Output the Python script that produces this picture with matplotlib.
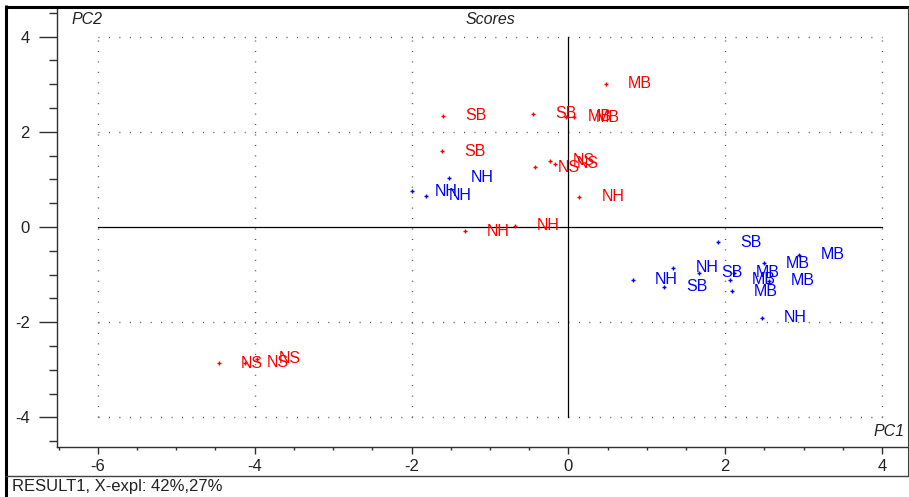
import matplotlib
matplotlib.use("Agg")
import matplotlib.pyplot as plt
from matplotlib.lines import Line2D
import numpy as np

plt.rcParams['font.family'] = ['Liberation Sans', 'DejaVu Sans']

# PCA scores (PC1, PC2) and sample labels
red_pc1 = [0.48, -1.60, -0.45, -0.03, 0.07, -1.61, -0.42, -0.23, -0.17,
           0.14, -1.32, -0.68, -4.46, -4.12, -3.97]
red_pc2 = [3.01, 2.34, 2.38, 2.32, 2.30, 1.59, 1.25, 1.39, 1.33,
           0.64, -0.09, 0.03, -2.86, -2.85, -2.77]
red_labels = ["MB", "SB", "SB", "MB", "MB", "SB", "NS", "NS", "NS",
              "NH", "NH", "NH", "NS", "NS", "NS"]

blue_pc1 = [-1.52, -1.99, -1.81, 1.91, 0.82, 1.34, 1.22, 1.67, 2.11,
            2.06, 2.08, 2.49, 2.94, 2.56, 2.47]
blue_pc2 = [1.03, 0.75, 0.66, -0.32, -1.11, -0.86, -1.25, -0.96, -0.96,
            -1.11, -1.35, -0.76, -0.58, -1.13, -1.91]
blue_labels = ["NH", "NH", "NH", "SB", "NH", "NH", "SB", "SB", "MB",
               "MB", "MB", "MB", "MB", "MB", "NH"]

x_ticks = [-6, -4, -2, 0, 2, 4]
y_ticks = [-4, -2, 0, 2, 4]
status_text = "RESULT1, X-expl: 42%,27%"

W, H = 909, 497
fig = plt.figure(figsize=(W / 100, H / 100), dpi=100)
fig.patch.set_facecolor("white")

ax = fig.add_axes([57 / W, 50 / H, 851 / W, 440 / H])
ax.set_xlim(-6.52, 4.33)
ax.set_ylim(-4.62, 4.62)

axis_col = "#303030"
for side in ("top", "right"):
    ax.spines[side].set_visible(False)
for side in ("left", "bottom"):
    ax.spines[side].set_color(axis_col)
    ax.spines[side].set_linewidth(1.0)

ax.set_xticks(x_ticks)
ax.set_yticks(y_ticks)
ax.set_xticks(np.arange(-6.5, 4.5, 0.5), minor=True)
ax.set_yticks(np.arange(-4.5, 4.6, 0.5), minor=True)
ax.set_xticklabels([str(t) for t in x_ticks])
ax.set_yticklabels([str(t) for t in y_ticks])
ax.tick_params(axis="x", which="major", direction="out", length=5, width=1,
               color=axis_col, pad=3.5, labelsize=12, labelcolor="#222222")
ax.tick_params(axis="x", which="minor", direction="out", length=2.2, width=1,
               color=axis_col)
ax.tick_params(axis="y", which="major", direction="out", length=13, width=1,
               color=axis_col, pad=6.5, labelsize=12, labelcolor="#222222")
ax.tick_params(axis="y", which="minor", direction="out", length=5.8, width=1,
               color=axis_col)

# dotted grid inside the [-6, 4] x [-4, 4] box
dot_style = dict(color="#505050", lw=1.0, dashes=(0.72, 6.8), zorder=1)
for gx in [-6, -4, -2, 2, 4]:
    ax.plot([gx, gx], [-4, 4], **dot_style)
for gy in [-4, -2, 2, 4]:
    ax.plot([-6, 4], [gy, gy], **dot_style)
# solid zero lines
ax.plot([0, 0], [-4, 4], color="black", lw=0.9, zorder=2)
ax.plot([-6, 4], [0, 0], color="black", lw=0.9, zorder=2)

def draw_group(xs, ys, labels, color):
    ax.plot(xs, ys, linestyle="none", marker="+", markersize=3.5,
            markeredgewidth=1.0, color=color, zorder=3)
    for x, y, lab in zip(xs, ys, labels):
        ax.annotate(lab, (x, y), xytext=(22, 0), textcoords="offset pixels",
                    ha="left", va="center", fontsize=11.5, color=color,
                    zorder=4)

draw_group(red_pc1, red_pc2, red_labels, "#ff0000")
draw_group(blue_pc1, blue_pc2, blue_labels, "#0000ff")

# axis names and title inside the plot frame
ax.text(72 / W, (H - 20) / H, "PC2", transform=fig.transFigure, ha="left",
        va="center", fontsize=11.5, style="italic", color="#222222")
ax.text(490 / W, (H - 20) / H, "Scores", transform=fig.transFigure,
        ha="center", va="center", fontsize=11.5, style="italic",
        color="#222222")
ax.text(905 / W, (H - 432) / H, "PC1", transform=fig.transFigure, ha="right",
        va="center", fontsize=11.5, style="italic", color="#222222")

# window frame lines
def fline(x0, y0, x1, y1, lw, color):
    fig.add_artist(Line2D([x0 / W, x1 / W], [(H - y0) / H, (H - y1) / H],
                          transform=fig.transFigure, lw=lw, color=color,
                          solid_capstyle="butt"))

fline(6, 5, 6, H, 2.2, "black")          # left border
fline(5, 7, W, 7, 2.2, "black")          # top border
fline(5, 476, W, 476, 1.0, "#404040")    # bottom of axis panel
fline(907.5, 7, 907.5, 476, 0.8, "#404040")  # right border

fig.text(12 / W, (H - 487) / H, status_text, ha="left", va="center",
         fontsize=12, color="#222222")

fig.savefig("out.png", dpi=100, facecolor="white")
